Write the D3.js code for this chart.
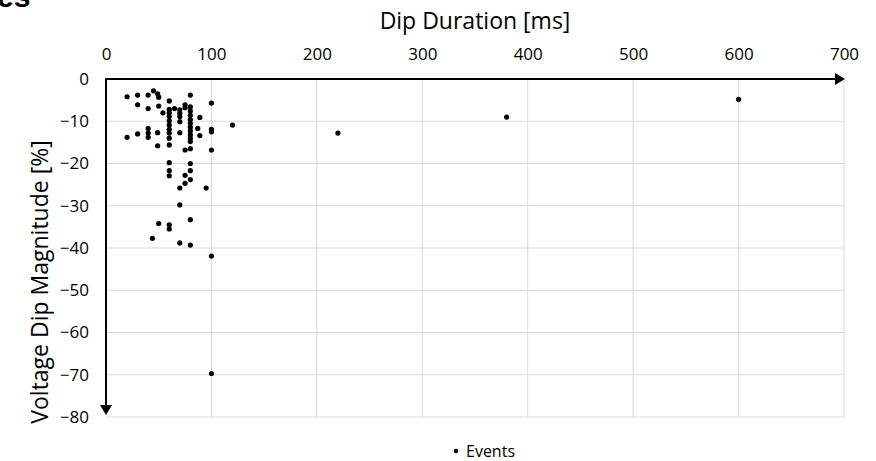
<!DOCTYPE html>
<html>
<head>
<meta charset="utf-8">
<script src="https://cdn.jsdelivr.net/npm/d3@7"></script>
<style>
	body { margin: 0; background: #fff; }
	svg text { font-family: "Open Sans", "Noto Sans", sans-serif; fill: #000; }
</style>
</head>
<body>
<svg id="chart" width="876" height="461"></svg>
<script>
// dip events: duration [ms] and magnitude [%]
var durations = [
	20, 30, 40, 45, 49, 50, 80,
	30, 40, 50, 54,
	60, 60, 60, 60, 60, 60, 60, 60, 60, 60, 60, 60, 60, 60, 60,
	65,
	70, 70, 70, 70, 70, 70, 70, 70,
	75, 75, 75, 75, 75,
	80, 80, 80, 80, 80, 80, 80, 80, 80, 80, 80, 80, 80, 80, 80, 80,
	89, 87, 89, 95,
	100, 100, 100, 100, 100, 100,
	120, 220, 380, 600,
	20, 30, 40, 40, 40, 49, 49, 50, 44
];
var magnitudes = [
	-4.2, -3.8, -3.8, -2.8, -3.5, -4.3, -3.8,
	-6.1, -7.0, -6.4, -8.0,
	-5.2, -7.2, -8.0, -8.9, -9.9, -10.9, -11.9, -12.8, -14.0, -15.6, -19.8, -21.7, -22.9, -34.5, -35.5,
	-7.0,
	-7.3, -8.1, -8.9, -10.1, -12.7, -25.8, -29.8, -38.8,
	-6.1, -6.8, -16.8, -22.8, -24.7,
	-6.6, -7.6, -8.6, -9.6, -10.5, -11.4, -12.3, -13.2, -14.0, -14.8, -16.5, -20.0, -21.7, -23.8, -33.3, -39.3,
	-9.1, -11.7, -13.4, -25.8,
	-5.7, -11.9, -12.5, -16.8, -41.9, -69.7,
	-10.9, -12.8, -9.0, -4.8,
	-13.8, -13.0, -11.7, -12.8, -13.8, -12.7, -15.8, -34.2, -37.7
];
var xTicks = [0, 100, 200, 300, 400, 500, 600, 700];
var yTicks = [0, -10, -20, -30, -40, -50, -60, -70, -80];
var seriesName = "Events";

var svg = d3.select("#chart");

var x = d3.scaleLinear().domain([0, 700]).range([106, 844]);
var y = d3.scaleLinear().domain([0, -80]).range([79, 417]);

// cut off heading from the page above
svg.append("text")
	.attr("x", -3).attr("y", 7)
	.style("font-family", "Arial, 'Liberation Sans', sans-serif")
	.style("font-weight", "bold").style("font-size", "30px")
	.text("es");

// gridlines
svg.append("g").selectAll("line")
	.data(xTicks.slice(1))
	.join("line")
	.attr("x1", d => x(d)).attr("x2", d => x(d))
	.attr("y1", y(0)).attr("y2", y(-80))
	.attr("stroke", "#d9d9d9").attr("stroke-width", 1);

svg.append("g").selectAll("line")
	.data(yTicks.slice(1))
	.join("line")
	.attr("x1", x(0)).attr("x2", x(700))
	.attr("y1", d => y(d)).attr("y2", d => y(d))
	.attr("stroke", "#d9d9d9").attr("stroke-width", 1);

// tick labels
var xAxis = svg.append("g")
	.attr("transform", "translate(0," + y(0) + ")")
	.call(d3.axisTop(x).tickValues(xTicks).tickSize(0).tickPadding(19));
xAxis.select(".domain").remove();
xAxis.selectAll("text").style("font-family", "'Open Sans', sans-serif").style("font-size", "17px");

var yAxis = svg.append("g")
	.attr("transform", "translate(" + x(0) + ",0)")
	.call(d3.axisLeft(y).tickValues(yTicks).tickSize(0).tickPadding(17));
yAxis.select(".domain").remove();
yAxis.selectAll("text").style("font-family", "'Open Sans', sans-serif").style("font-size", "17px");

// axis arrows
var x0 = x(0), y0 = y(0);
var xEnd = x(700) + 1, yEnd = y(-80) - 2;
svg.append("line")
	.attr("x1", x0).attr("x2", xEnd - 8)
	.attr("y1", y0).attr("y2", y0)
	.attr("stroke", "#000").attr("stroke-width", 2);
svg.append("path")
	.attr("d", "M" + xEnd + "," + y0 + "L" + (xEnd - 10) + "," + (y0 - 6) + "L" + (xEnd - 10) + "," + (y0 + 6) + "Z")
	.attr("fill", "#000");
svg.append("line")
	.attr("x1", x0).attr("x2", x0)
	.attr("y1", y0 - 1).attr("y2", yEnd - 8)
	.attr("stroke", "#000").attr("stroke-width", 2);
svg.append("path")
	.attr("d", "M" + x0 + "," + yEnd + "L" + (x0 - 6) + "," + (yEnd - 10) + "L" + (x0 + 6) + "," + (yEnd - 10) + "Z")
	.attr("fill", "#000");

// axis titles
svg.append("text")
	.attr("x", (x(0) + x(700)) / 2).attr("y", 29)
	.attr("text-anchor", "middle")
	.style("font-size", "23px")
	.text("Dip Duration [ms]");

svg.append("text")
	.attr("transform", "translate(48,282) rotate(-90)")
	.attr("text-anchor", "middle")
	.style("font-size", "23px")
	.text("Voltage Dip Magnitude [%]");

// points
svg.append("g").selectAll("circle")
	.data(durations.map((d, i) => [d, magnitudes[i]]))
	.join("circle")
	.attr("cx", d => x(d[0]))
	.attr("cy", d => y(d[1]))
	.attr("r", 2.6)
	.attr("fill", "#000");

// legend
svg.append("circle").attr("cx", 456).attr("cy", 451).attr("r", 2.3).attr("fill", "#000");
svg.append("text").attr("x", 466).attr("y", 457)
	.style("font-size", "16px")
	.text(seriesName);
</script>
</body>
</html>
